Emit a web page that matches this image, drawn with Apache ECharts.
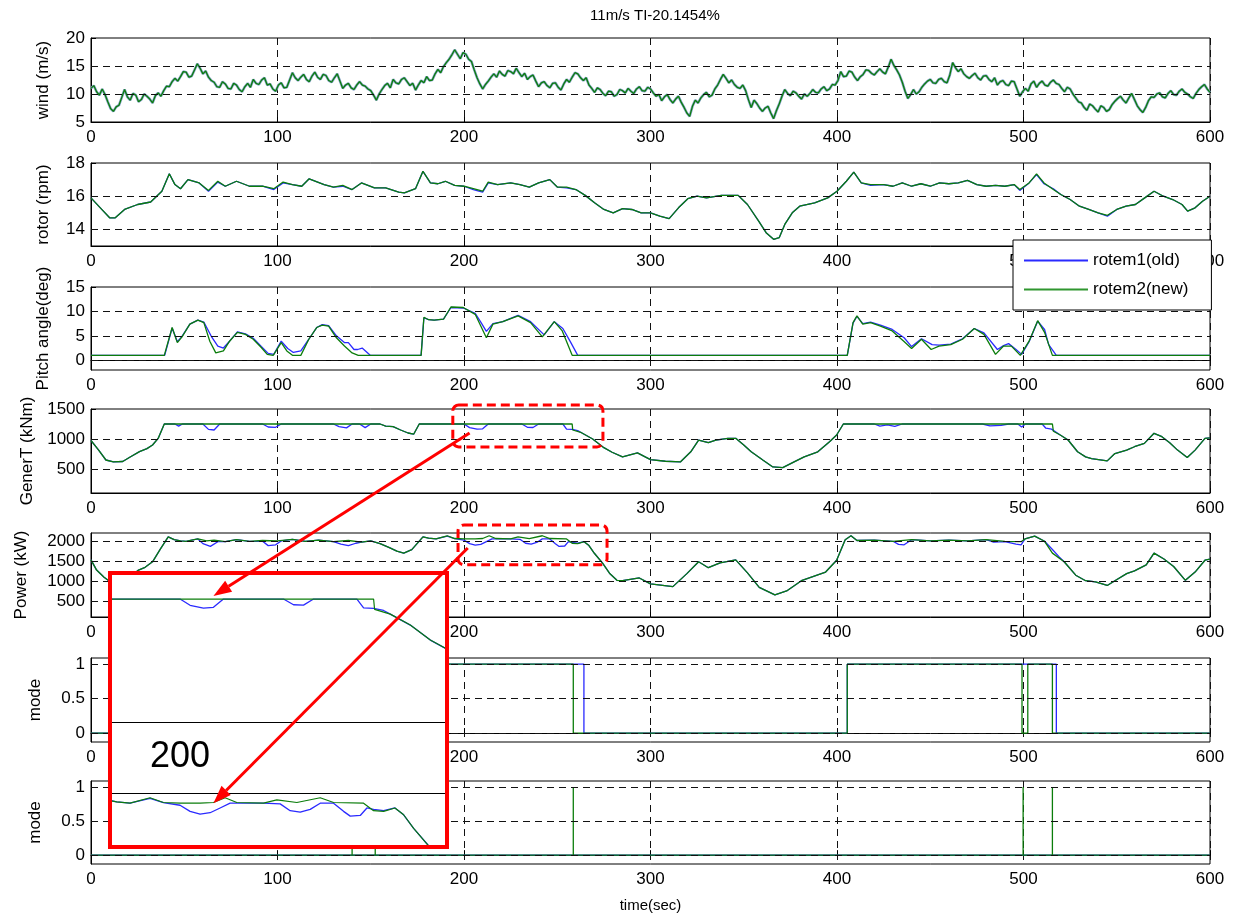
<!DOCTYPE html>
<html>
<head>
<meta charset="utf-8">
<title>11m/s TI-20.1454%</title>
<script src="https://cdn.jsdelivr.net/npm/echarts@6/dist/echarts.min.js"></script>
<style>
  html, body { margin: 0; padding: 0; background: #fff; }
  #chart { width: 1239px; height: 920px; }
</style>
</head>
<body>
<div id="chart"></div>
<script>
// ---- data ----
const timeTicks = [0, 100, 200, 300, 400, 500, 600]
const windStep = 1.5 // wind sampled every 1.5 s
const wind = [
  11.0, 11.5, 10.4, 9.8, 10.9, 9.9, 8.6, 7.4, 6.9, 7.7, 8.0, 9.4, 10.8, 9.5, 8.9, 10.1, 9.8, 8.6, 9.0, 10.0,
  9.6, 9.1, 8.4, 9.7, 10.2, 9.6, 10.6, 11.4, 11.3, 12.2, 12.8, 12.3, 13.1, 14.0, 13.9, 13.0, 13.2, 14.3, 15.4, 14.6,
  13.6, 14.1, 13.0, 12.4, 12.1, 11.3, 11.2, 12.2, 11.8, 11.0, 10.9, 11.9, 11.6, 10.8, 10.4, 11.3, 11.9, 11.2, 12.6, 11.9,
  11.7, 12.5, 12.9, 11.6, 11.8, 10.9, 10.5, 11.6, 12.0, 11.1, 11.2, 12.5, 13.8, 12.9, 12.4, 13.0, 13.5, 12.6, 12.2, 13.2,
  13.9, 13.0, 12.6, 13.5, 13.3, 12.4, 12.1, 12.9, 13.6, 12.3, 11.0, 11.6, 11.9, 11.1, 10.8, 11.6, 12.2, 11.6, 11.4, 10.9,
  10.6, 9.8, 8.9, 10.0, 10.8, 11.5, 11.9, 11.1, 12.6, 12.0, 11.8, 12.6, 12.9, 12.2, 11.5, 11.9, 10.7, 11.6, 12.4, 12.0,
  13.1, 12.4, 12.5, 13.6, 14.4, 13.8, 14.9, 15.6, 16.2, 17.0, 17.9, 17.1, 16.3, 17.4, 17.1, 16.2, 15.8, 14.3, 12.9, 11.8,
  10.9, 11.7, 12.3, 13.0, 13.6, 13.0, 14.1, 13.5, 13.2, 14.2, 14.0, 13.6, 14.6, 13.8, 13.1, 13.7, 12.6, 13.1, 13.4, 12.3,
  11.3, 12.0, 12.2, 11.5, 11.1, 11.9, 12.0, 11.2, 10.7, 11.8, 12.6, 12.1, 13.0, 13.8, 13.6, 12.9, 12.4, 12.9, 11.6, 11.0,
  10.3, 11.1, 10.8, 10.1, 9.7, 10.5, 10.4, 9.6, 9.9, 10.8, 10.6, 10.2, 11.0, 10.5, 10.1, 10.9, 11.3, 10.6, 10.5, 11.2,
  10.9, 10.2, 9.6, 9.9, 8.8, 9.5, 9.9, 9.0, 8.4, 9.1, 9.6, 8.5, 7.6, 6.6, 6.0, 7.8, 8.9, 8.4, 9.3, 9.9,
  10.3, 9.5, 9.8, 10.9, 11.6, 12.6, 13.5, 12.8, 12.0, 12.5, 11.7, 11.2, 11.0, 11.6, 10.6, 9.0, 7.6, 8.9, 8.3, 7.5,
  6.9, 7.5, 7.8, 6.6, 5.6, 7.0, 8.2, 9.6, 10.8, 10.1, 9.7, 10.5, 10.2, 9.6, 9.1, 10.0, 9.6, 10.1, 10.8, 10.3,
  10.2, 10.9, 11.3, 10.6, 10.9, 11.7, 11.6, 12.4, 14.0, 13.1, 13.2, 14.1, 13.9, 13.0, 12.4, 13.1, 13.5, 14.3, 14.2, 13.7,
  13.4, 14.0, 14.5, 13.9, 13.6, 14.8, 16.2, 15.1, 14.3, 13.4, 12.1, 10.5, 9.2, 9.9, 10.8, 10.0, 10.4, 11.2, 11.8, 12.3,
  12.6, 12.0, 11.9, 12.6, 12.8, 12.2, 12.0, 13.4, 15.6, 14.7, 14.0, 14.5, 13.6, 13.1, 12.8, 13.3, 13.7, 12.9, 12.5, 13.2,
  13.3, 12.6, 12.2, 12.9, 11.6, 12.2, 12.4, 11.7, 11.5, 12.3, 12.2, 10.9, 9.6, 10.4, 11.0, 10.5, 11.8, 12.3, 11.2, 11.9,
  12.3, 11.6, 11.4, 12.1, 12.5, 11.9, 11.7, 11.0, 10.4, 11.2, 10.9, 10.0, 9.3, 8.6, 8.4, 7.6, 7.1, 8.2, 7.9, 7.3,
  6.8, 7.9, 7.6, 6.9, 7.2, 8.1, 8.7, 9.2, 9.6, 8.9, 8.4, 9.3, 10.1, 9.0, 7.9, 7.2, 6.7, 7.6, 8.8, 9.5,
  9.4, 10.0, 10.2, 9.5, 9.3, 10.1, 10.6, 9.9, 9.8, 10.5, 10.9, 10.3, 10.0, 9.5, 9.2, 10.1, 10.8, 11.3, 11.7, 10.9,
  10.3
]

const rotorGreen = [[0,15.9],[5,15.3],[10,14.7],[13,14.7],[18,15.2],[25,15.5],[32,15.65],[38,16.3],[42,17.35],[45,16.7],[48,16.45],[52,17.0],[58,16.8],[63,16.35],[68,16.9],[72,16.6],[78,16.9],[85,16.6],[92,16.6],[98,16.45],[103,16.85],[108,16.7],[113,16.6],[117,17.05],[125,16.7],[130,16.55],[135,16.65],[140,16.4],[145,16.8],[152,16.5],[158,16.5],[165,16.25],[168,16.2],[174,16.45],[178,17.5],[182,16.8],[186,16.75],[190,16.9],[195,16.65],[200,16.6],[205,16.45],[210,16.3],[213,16.85],[218,16.7],[225,16.8],[230,16.7],[235,16.55],[240,16.8],[246,17.0],[250,16.55],[255,16.55],[260,16.4],[265,16.05],[270,15.6],[275,15.2],[280,15.0],[285,15.25],[290,15.2],[295,15.0],[300,15.0],[305,14.8],[310,14.65],[315,15.3],[320,15.85],[325,16.0],[330,15.9],[338,16.05],[347,16.05],[352,15.5],[358,14.5],[362,13.8],[366,13.4],[369,13.5],[372,14.3],[376,15.0],[380,15.4],[388,15.6],[395,15.9],[400,16.3],[405,16.9],[409,17.45],[413,16.8],[418,16.7],[425,16.7],[430,16.6],[435,16.8],[440,16.6],[445,16.75],[450,16.6],[455,16.8],[460,16.75],[465,16.8],[470,16.95],[475,16.7],[480,16.6],[485,16.65],[490,16.6],[495,16.7],[498,16.4],[503,16.8],[507,17.35],[511,16.8],[516,16.4],[520,16.1],[525,15.8],[530,15.4],[535,15.2],[540,15.0],[545,14.85],[550,15.2],[555,15.4],[560,15.5],[565,15.9],[570,16.3],[575,16.0],[580,15.8],[585,15.5],[588,15.1],[592,15.3],[596,15.7],[600,16.0]]
const rotorBlue = [[0,15.9],[5,15.3],[10,14.7],[13,14.7],[18,15.2],[25,15.5],[32,15.65],[38,16.3],[42,17.35],[45,16.7],[48,16.45],[52,17.0],[58,16.8],[63,16.3],[68,16.85],[72,16.6],[78,16.9],[85,16.6],[92,16.6],[98,16.4],[103,16.8],[108,16.7],[113,16.6],[117,17.05],[125,16.7],[130,16.55],[135,16.6],[140,16.4],[145,16.8],[152,16.5],[158,16.5],[165,16.25],[168,16.2],[174,16.45],[178,17.5],[182,16.8],[186,16.75],[190,16.9],[195,16.65],[200,16.6],[205,16.4],[210,16.25],[213,16.8],[218,16.7],[225,16.8],[230,16.7],[235,16.55],[240,16.8],[246,17.0],[250,16.55],[255,16.5],[260,16.4],[265,16.05],[270,15.6],[275,15.2],[280,15.0],[285,15.25],[290,15.2],[295,15.0],[300,15.0],[305,14.8],[310,14.65],[315,15.3],[320,15.85],[325,16.0],[330,15.9],[338,16.05],[347,16.05],[352,15.5],[358,14.5],[362,13.8],[366,13.4],[369,13.5],[372,14.3],[376,15.0],[380,15.4],[388,15.6],[395,15.9],[400,16.3],[405,16.9],[409,17.45],[413,16.8],[418,16.65],[425,16.7],[430,16.6],[435,16.8],[440,16.6],[445,16.75],[450,16.6],[455,16.8],[460,16.75],[465,16.8],[470,16.95],[475,16.7],[480,16.6],[485,16.65],[490,16.6],[495,16.7],[498,16.35],[503,16.8],[507,17.3],[511,16.75],[516,16.45],[520,16.1],[525,15.8],[530,15.4],[535,15.2],[540,15.0],[545,14.8],[550,15.2],[555,15.4],[560,15.5],[565,15.9],[570,16.3],[575,16.0],[580,15.8],[585,15.5],[588,15.1],[592,15.3],[596,15.7],[600,16.0]]

const pitchGreen = [[0,1],[39.3,1],[43.5,6.7],[46.3,3.6],[48.8,4.8],[53,7.4],[57.3,8.2],[60.5,7.7],[63.7,3.9],[66.9,1.5],[71,1.9],[74.3,3.9],[78.5,5.7],[82.8,5.3],[87,4.3],[91.3,2.6],[94.5,1.2],[97.7,1],[102,3.6],[105,1.9],[108,1],[112.5,1],[116.8,4.3],[121,6.7],[124,7.2],[127.4,7],[131.6,4.6],[135.9,2.9],[140,1.5],[143.3,1],[177,1],[178.5,8.8],[181,8.3],[184,8.2],[189,8.4],[193,10.9],[199.6,10.8],[206,9.4],[209,7],[212,4.6],[215.5,7.4],[220.8,7.9],[229,9.1],[235.7,7.7],[242,4.8],[248.4,7.9],[252.7,6],[258,1],[405.5,1],[408.6,7.7],[410.7,9.1],[413.8,7.4],[418,7.7],[423.3,7],[429.6,6],[435.8,3.9],[440,2.4],[445.3,4.3],[450.5,2.2],[454.7,2.9],[461,3.2],[467.3,4.3],[473.6,6.5],[478.8,5.3],[485,1.2],[489.3,2.9],[493.5,2.9],[498.3,1],[503,3.9],[507.6,8.1],[511.3,5.7],[515.5,1],[600,1]]
const pitchBlue = [[0,1],[39.5,1],[43.5,6.6],[46.3,3.8],[48.8,4.9],[53,7.4],[57.3,8.2],[60.5,7.8],[64.5,4.9],[68,2.9],[71,2.5],[74.3,3.9],[78.5,5.8],[82.8,5.4],[87,4.5],[91.3,2.8],[95,1.4],[98,1.2],[102,3.9],[105.5,2.4],[108.5,1.6],[112.5,1.9],[116.8,4.3],[121,6.7],[124,7.3],[127.4,7.1],[131.6,5],[136,3.6],[138,3.6],[141,2.2],[143,2.2],[145.4,2.5],[149.7,1],[177,1],[178.5,8.7],[181,8.3],[184,8.2],[189,8.4],[193,10.8],[199.6,10.7],[206,9.6],[209,7.8],[212,5.9],[215.5,7.5],[220.8,7.9],[229,9.2],[235.7,7.9],[243,5.2],[248.4,7.9],[253,6.5],[257,3.8],[261,1],[405.5,1],[408.6,7.6],[410.7,9],[413.8,7.5],[418,7.8],[423.3,7.2],[429.6,6.3],[436,4.6],[440,2.8],[445.3,4.4],[451,3.2],[454.7,3.1],[461,3.3],[467.3,4.4],[473.6,6.5],[478.8,5.6],[486,2.2],[489.3,3],[492,3.4],[496,2.2],[499,1.2],[503,3.8],[507.6,8],[511.3,6.3],[513.5,3.2],[517.6,1],[600,1]]

const genGreen = [[0,975],[4,820],[8,650],[12,620],[17,625],[21,700],[26,790],[30,840],[33,900],[36,1010],[39.3,1250],[155,1250],[158,1215],[162,1205],[166,1150],[170,1100],[173,1080],[176,1250],[258,1250],[258.3,1150],[263,1105],[269,1000],[275,856],[279.4,779],[285,702],[293,770],[300,657],[308,629],[316,618],[321.6,787],[325.8,983],[331,938],[335,983],[341.5,1011],[345.7,1011],[350,899],[354,787],[360.4,646],[365.6,534],[370.9,522],[377,618],[382.4,702],[389.7,787],[396,955],[399.8,1067],[403.4,1250],[515.5,1250],[516,1130],[519.7,1067],[523.9,983],[529,787],[533.3,702],[536.5,674],[544.9,635],[549,758],[555.3,815],[559.5,871],[564.8,927],[570,1095],[574.2,1039],[578.4,938],[582.6,815],[587.8,691],[592,815],[597.3,1011],[600,1020]]
const genBlue = [[0,975],[4,820],[8,650],[12,620],[17,625],[21,700],[26,790],[30,840],[33,900],[36,1010],[39.3,1250],[45,1250],[47,1215],[49,1250],[60,1250],[63,1160],[66,1150],[69,1250],[92,1250],[95,1200],[99,1195],[102,1250],[130,1250],[133,1205],[137,1185],[140,1250],[144,1250],[147,1190],[150,1250],[155,1250],[158,1215],[162,1205],[166,1150],[170,1100],[173,1080],[176,1250],[200,1250],[203,1190],[207,1163],[210,1170],[213,1250],[231,1250],[234,1195],[237,1192],[240,1250],[253,1250],[255,1165],[258,1160],[261,1140],[263,1105],[269,1000],[275,856],[279.4,779],[285,702],[293,770],[300,657],[308,629],[316,618],[321.6,787],[325.8,983],[331,938],[335,983],[341.5,1011],[345.7,1011],[350,899],[354,787],[360.4,646],[365.6,534],[370.9,522],[377,618],[382.4,702],[389.7,787],[396,955],[399.8,1067],[403.4,1250],[420,1250],[423,1215],[427,1235],[431,1210],[435,1250],[478,1250],[482,1220],[488,1228],[492,1250],[497,1250],[499,1200],[501,1250],[510,1250],[512,1180],[515,1165],[519.7,1067],[523.9,983],[529,787],[533.3,702],[536.5,674],[544.9,635],[549,758],[555.3,815],[559.5,871],[564.8,927],[570,1095],[574.2,1039],[578.4,938],[582.6,815],[587.8,691],[592,815],[597.3,1011],[600,1020]]

const powGreen = [[0,1540],[3,1280],[7,1100],[11,960],[14,920],[18,990],[22,1150],[25.5,1280],[29,1350],[33,1490],[37,1800],[41.4,2120],[44.6,2050],[48,2020],[51,2010],[54,2040],[57.3,2070],[62,2020],[66,2040],[72,2000],[78,2050],[85,2010],[92,2030],[100,2020],[108,2060],[115,2010],[122,2040],[130,2000],[138,2030],[145,1990],[150,2020],[155,1950],[160,1850],[164,1760],[167.7,1710],[172,1800],[178,2120],[181,2090],[185,2070],[191,2150],[195,2080],[200,2070],[206,2070],[210,2080],[213.5,2150],[217,2080],[225,2070],[229,2120],[235,2080],[242,2150],[246,2080],[255,2070],[258,1960],[261,1950],[264.4,2000],[267,1900],[270,1700],[274.3,1455],[278,1200],[282,1020],[285,1010],[294,1080],[300,930],[312,860],[319.5,1190],[325.8,1490],[331,1340],[337.3,1460],[345.7,1540],[352,1210],[358.3,840],[366.7,650],[373,750],[381.3,1020],[393.9,1230],[399.8,1530],[404.4,2050],[407.5,2150],[410.7,2030],[420,2040],[430,2010],[440,2050],[450,2020],[460,2040],[470,2020],[480,2050],[490,2010],[498.7,2000],[500.8,2070],[506,2140],[511.3,2010],[515.5,1710],[521.8,1490],[528,1150],[533.3,1010],[538.6,980],[544.9,890],[549,1010],[555.3,1190],[559.5,1260],[565.8,1410],[570,1710],[575.3,1560],[580.5,1370],[586.8,1020],[592,1230],[597.3,1530],[600,1560]]
const powBlue = [[0,1540],[3,1280],[7,1100],[11,960],[14,920],[18,990],[22,1150],[25.5,1280],[29,1350],[33,1490],[37,1800],[41.4,2120],[44.6,2050],[48,2020],[51,2010],[54,2040],[57.3,2070],[60,1950],[64,1880],[68,2000],[72,2000],[78,2050],[85,2010],[92,2010],[95,1900],[99,1920],[102,2020],[108,2060],[115,2010],[122,2040],[130,2000],[134,1940],[138,1900],[142,1960],[145,1990],[150,2020],[155,1950],[160,1850],[164,1760],[167.7,1710],[172,1800],[178,2120],[181,2090],[185,2070],[191,2140],[195,2080],[200,2040],[203,1950],[206,1910],[209,1930],[212,2000],[215,2070],[225,2070],[230,2060],[233,1960],[236,1940],[239,1980],[242,2070],[246,2070],[249,1950],[251,1880],[254,1890],[256,2000],[258,1980],[261,1960],[264.4,2000],[267,1900],[270,1700],[274.3,1455],[278,1200],[282,1020],[285,1010],[294,1080],[300,930],[312,860],[319.5,1190],[325.8,1490],[331,1340],[337.3,1460],[345.7,1540],[352,1210],[358.3,840],[366.7,650],[373,750],[381.3,1020],[393.9,1230],[399.8,1530],[404.4,2050],[407.5,2150],[410.7,2030],[420,2040],[430,2010],[433,1930],[436,1920],[440,2050],[450,2020],[460,2040],[470,2020],[480,2050],[484,1990],[490,2000],[496,1940],[498.7,1920],[500.8,2070],[506,2140],[511.3,2010],[515.5,1800],[519,1620],[521.8,1490],[528,1150],[533.3,1010],[538.6,980],[544.9,890],[549,1010],[555.3,1190],[559.5,1260],[565.8,1410],[570,1710],[575.3,1560],[580.5,1370],[586.8,1020],[592,1230],[597.3,1530],[600,1560]]

const modeGreen1 = [[0,0],[40,0],[40,1],[145,1],[145,0],[176,0],[176,1],[258.6,1],[258.6,0],[405.5,0],[405.5,1],[499.2,1],[499.2,0],[502.3,0],[502.3,1],[515.5,1],[515.5,0],[600,0]]
const modeBlue1 = [[0,0],[40,0],[40,1],[150,1],[150,0],[177,0],[177,1],[264.3,1],[264.3,0],[405.5,0],[405.5,1],[517.6,1],[517.6,0],[600,0]]
const modeGreen2 = [[0,0],[140,0],[140,1],[140,0],[152.4,0],[152.4,1],[152.4,0],[258.6,0],[258.6,1],[258.6,0],[499.8,0],[499.8,1],[499.8,0],[515.5,0],[515.5,1],[515.5,0],[600,0]]
const modeBlue2 = [[0,0],[600,0]]

// tick labels per panel
const windTicks = [5, 10, 15, 20]
const rotorTicks = [14, 16, 18]
const pitchTicks = [0, 5, 10, 15]
const genTicks = [500, 1000, 1500]
const powTicks = [500, 1000, 1500, 2000]
const modeTicks = [0, 0.5, 1]

// ---- layout / style ----
const FONT = 'Liberation Sans, Arial, sans-serif'
const BLUE = '#2a2aff'
const GREEN = '#0b7d0b'
const HALO = '#86a3c9'
const RED = '#ff0000'
const plotLeft = 91
const plotWidth = 1119
const panelTop = [38, 163, 287, 409, 533, 658, 781]
const panelHeight = [84, 83, 83, 84, 84, 84, 83]
const inset = { left: 110, top: 573, width: 337, height: 274, upperH: 149, lowerTop: 793, lowerH: 54 }
const dash = { type: [7, 5], color: '#111', width: 1 }

const windData = wind.map((v, i) => [i * windStep, v])

const panels = [
  { name: 'wind (m/s)', min: 5, max: 20, ticks: windTicks, lines: [10, 15], gap: 39, blue: windData, green: windData, halo: true },
  { name: 'rotor (rpm)', min: 13, max: 18, ticks: rotorTicks, lines: [14, 16], gap: 39, blue: rotorBlue, green: rotorGreen },
  { name: 'Pitch angle(deg)', min: -2, max: 15, ticks: pitchTicks, lines: [0, 5, 10], gap: 39, blue: pitchBlue, green: pitchGreen },
  { name: 'GenerT (kNm)', min: 100, max: 1500, ticks: genTicks, lines: [500, 1000], gap: 41, blue: genBlue, green: genGreen },
  { name: 'Power (kW)', min: 90, max: 2220, ticks: powTicks, lines: [500, 1000, 1500, 2000], gap: 61, blue: powBlue, green: powGreen },
  { name: 'mode', min: -0.13, max: 1.09, ticks: modeTicks, lines: [0, 0.5, 1], gap: 47, blue: modeBlue1, green: modeGreen1 },
  { name: 'mode', min: -0.13, max: 1.09, ticks: modeTicks, lines: [0, 0.5, 1], gap: 47, blue: modeBlue2, green: modeGreen2 }
]

const gridLines = (yVals, xVals) => ({
  silent: true,
  symbol: ['none', 'none'],
  label: { show: false },
  lineStyle: dash,
  emphasis: { disabled: true },
  animation: false,
  data: yVals.map(v => ({ yAxis: v })).concat((xVals || []).map(v => ({ xAxis: v })))
})

const line = (name, data, idx, color, width, z, extra) => Object.assign({
  type: 'line',
  name: name,
  xAxisIndex: idx,
  yAxisIndex: idx,
  data: data,
  symbol: 'none',
  showSymbol: false,
  animation: false,
  z: z,
  lineStyle: { color: color, width: width },
  itemStyle: { color: color },
  emphasis: { disabled: true }
}, extra || {})

const grids = []
const xAxes = []
const yAxes = []
const series = []

panels.forEach((p, i) => {
  grids.push({ left: plotLeft, top: panelTop[i], width: plotWidth, height: panelHeight[i], show: true, borderColor: '#000', borderWidth: 1 })
  xAxes.push({
    gridIndex: i, type: 'value', min: timeTicks[0], max: timeTicks[timeTicks.length - 1], interval: 100,
    axisLine: { lineStyle: { color: '#000' } },
    axisTick: { inside: true, length: 5, lineStyle: { color: '#000' } },
    axisLabel: { color: '#000', fontSize: 17, fontFamily: FONT, margin: 7 },
    splitLine: { show: true, lineStyle: dash },
    name: i === 6 ? 'time(sec)' : '',
    nameLocation: 'middle', nameGap: 34,
    nameTextStyle: { color: '#000', fontSize: 15, fontFamily: FONT }
  })
  yAxes.push({
    gridIndex: i, type: 'value', min: p.min, max: p.max,
    name: p.name, nameLocation: 'middle', nameGap: p.gap, nameRotate: 90,
    nameTextStyle: { color: '#000', fontSize: 17, fontFamily: FONT },
    axisLine: { show: true, lineStyle: { color: '#000' } },
    axisTick: { show: true, inside: true, length: 5, customValues: p.ticks, lineStyle: { color: '#000' } },
    axisLabel: { customValues: p.ticks, color: '#000', fontSize: 17, fontFamily: FONT, margin: 6, formatter: v => String(v) },
    splitLine: { show: false }
  })
  if (p.halo) {
    series.push(line('rotem1(old)', p.blue, i, HALO, 2.6, 2, { markLine: gridLines(p.lines) }))
  } else {
    series.push(line('rotem1(old)', p.blue, i, BLUE, 1.3, 2, { markLine: gridLines(p.lines) }))
  }
  series.push(line('rotem2(new)', p.green, i, GREEN, 1.3, 3))
})

// magnified inset: upper part = GenerT, lower part = Power, 179..280 s
const insetT = [179, 280]
grids.push({ left: inset.left, top: inset.top, width: inset.width, height: inset.upperH, z: 55 })
grids.push({ left: inset.left, top: inset.lowerTop, width: inset.width, height: inset.lowerH, z: 55 })
xAxes.push({
  gridIndex: 7, type: 'value', min: insetT[0], max: insetT[1], position: 'bottom', z: 60,
  axisLine: { lineStyle: { color: '#000', width: 1.2 } }, axisTick: { show: false },
  axisLabel: { customValues: [200], color: '#000', fontSize: 36, fontFamily: FONT, margin: 17 },
  splitLine: { show: false }
})
xAxes.push({
  gridIndex: 8, type: 'value', min: insetT[0], max: insetT[1], position: 'top', z: 60,
  axisLine: { lineStyle: { color: '#000', width: 1.2 } }, axisTick: { show: false },
  axisLabel: { show: false }, splitLine: { show: false }
})
yAxes.push({ gridIndex: 7, type: 'value', min: 69, max: 1500, show: false, splitLine: { show: false } })
yAxes.push({ gridIndex: 8, type: 'value', min: 1426, max: 2220, show: false, splitLine: { show: false } })
series.push(line('rotem1(old)', genBlue, 7, BLUE, 1.3, 60, { markLine: gridLines([1000], [200]) }))
series.push(line('rotem2(new)', genGreen, 7, GREEN, 1.2, 61))
series.push(line('rotem1(old)', powBlue, 8, BLUE, 1.3, 60, { markLine: gridLines([1500, 2000], [200]) }))
series.push(line('rotem2(new)', powGreen, 8, GREEN, 1.2, 61))

const option = {
  animation: false,
  backgroundColor: '#fff',
  textStyle: { fontFamily: FONT },
  title: {
    text: '11m/s TI-20.1454%', left: 650, top: 3, textAlign: 'center',
    textStyle: { color: '#000', fontSize: 15, fontWeight: 'normal', fontFamily: FONT }
  },
  legend: {
    orient: 'vertical', left: 1013, top: 240, z: 20,
    selectedMode: false,
    backgroundColor: '#fff', borderColor: '#000', borderWidth: 1, borderRadius: 0,
    padding: [12, 23, 12, 11],
    itemWidth: 64, itemHeight: 2, itemGap: 12,
    icon: 'rect',
    textStyle: { color: '#000', fontSize: 17, fontFamily: FONT },
    data: [
      { name: 'rotem1(old)', itemStyle: { color: BLUE, opacity: 1 } },
      { name: 'rotem2(new)', itemStyle: { color: '#2f962f', opacity: 1 } }
    ]
  },
  grid: grids,
  xAxis: xAxes,
  yAxis: yAxes,
  series: series
}

const chart = echarts.init(document.getElementById('chart'))
chart.setOption(option)

// ---- red annotations, anchored in data coordinates ----
const px = (g, p) => chart.convertToPixel({ gridIndex: g }, p)
const dashedBox = (g, a, b) => {
  const p0 = px(g, a)
  const p1 = px(g, b)
  return {
    type: 'rect', z: 100, silent: true,
    shape: { x: p0[0], y: p0[1], width: p1[0] - p0[0], height: p1[1] - p0[1], r: 6 },
    style: { fill: 'none', stroke: RED, lineWidth: 3, lineDash: [9, 5] }
  }
}
const arrow = (p0, p1) => {
  const dx = p1[0] - p0[0]
  const dy = p1[1] - p0[1]
  const len = Math.hypot(dx, dy)
  const ux = dx / len
  const uy = dy / len
  const hl = 18
  const hw = 6.5
  const bx = p1[0] - ux * hl
  const by = p1[1] - uy * hl
  return [
    { type: 'line', z: 100, silent: true, shape: { x1: p0[0], y1: p0[1], x2: bx, y2: by }, style: { stroke: RED, lineWidth: 3 } },
    { type: 'polygon', z: 100, silent: true, shape: { points: [p1, [bx - uy * hw, by + ux * hw], [bx + uy * hw, by - ux * hw]] }, style: { fill: RED } }
  ]
}

const graphics = [
  { type: 'rect', z: 50, silent: true, shape: { x: inset.left, y: inset.top, width: inset.width, height: inset.height }, style: { fill: '#fff' } },
  { type: 'rect', z: 100, silent: true, shape: { x: inset.left, y: inset.top, width: inset.width, height: inset.height }, style: { fill: 'none', stroke: RED, lineWidth: 4 } },
  dashedBox(3, [194, 1567], [274.5, 867]),
  dashedBox(4, [196.8, 2425], [276.7, 1416])
].concat(
  arrow(px(3, [203, 1100]), px(7, [210, 1280])),
  arrow(px(4, [202, 1840]), px(8, [210, 2070]))
)
chart.setOption({ graphic: graphics })
</script>
</body>
</html>
